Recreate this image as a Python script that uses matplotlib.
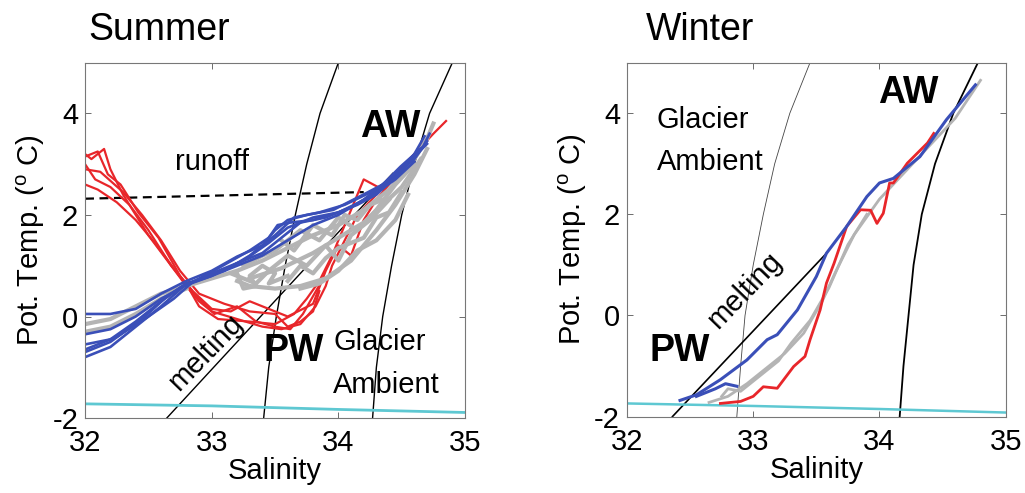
import numpy as np
import matplotlib.pyplot as plt

plt.rcParams['font.family'] = ['Liberation Sans', 'DejaVu Sans']
plt.rcParams['mathtext.fontset'] = 'custom'
plt.rcParams['mathtext.rm'] = 'Liberation Sans'
plt.rcParams['mathtext.it'] = 'Liberation Sans'
plt.rcParams['axes.unicode_minus'] = False

# ---------------- datos ----------------
# curvas de densidad (T, S)
iso_T = [-2, -1, 0, 1, 2, 3, 4, 5]
sum_isoA_S = [33.41, 33.45, 33.51, 33.58, 33.66, 33.75, 33.855, 34.0]
sum_isoB_S = [34.27, 34.30, 34.35, 34.42, 34.50, 34.60, 34.72, 34.9]
win_isoA_S = [32.87, 32.90, 32.935, 33.0, 33.08, 33.17, 33.29, 33.45]
win_isoB_S = [34.16, 34.19, 34.23, 34.27, 34.335, 34.44, 34.585, 34.78]

# linea de fusion (melting)
sum_melt_S = [32.645, 34.43]
sum_melt_T = [-2.0, 2.82]
win_melt_S = [32.36, 33.58]
win_melt_T = [-2.0, 1.23]

# runoff
runoff_S = [32.0, 34.2]
runoff_T = [2.32, 2.45]

# punto de congelamiento
frz_S = [32.0, 33.0, 34.0, 35.0]
sum_frz_T = [-1.72, -1.76, -1.83, -1.89]
win_frz_T = [-1.74, -1.79, -1.85, -1.92]

# perfiles verano: rojo
sum_red = [
    ([32.0, 32.05, 32.15, 32.2, 32.3, 32.4, 32.5, 32.65, 32.8, 32.9, 33.0, 33.2, 33.4, 33.55, 33.7, 33.82, 33.9, 33.95, 34.05, 34.15, 34.3, 34.45, 34.6, 34.75, 34.85],
     [3.2, 3.1, 3.3, 2.9, 2.4, 2.0, 1.6, 1.1, 0.6, 0.3, 0.1, -0.05, -0.2, -0.25, -0.15, 0.2, 0.6, 1.0, 1.5, 2.0, 2.4, 2.8, 3.2, 3.6, 3.85]),
    ([32.0, 32.1, 32.25, 32.4, 32.55, 32.7, 32.82, 32.9, 33.05, 33.3, 33.5, 33.65, 33.75, 33.85, 33.95, 34.05, 34.2, 34.35, 34.5, 34.7],
     [2.6, 2.5, 2.25, 1.9, 1.45, 0.95, 0.55, 0.2, -0.05, -0.1, -0.15, 0.05, 0.35, 0.7, 1.2, 1.8, 2.7, 2.5, 2.9, 3.5]),
    ([32.0, 32.08, 32.2, 32.35, 32.5, 32.68, 32.85, 33.0, 33.15, 33.3, 33.45, 33.6, 33.8, 33.9, 34.0, 34.1, 34.2, 34.3, 34.4],
     [3.0, 2.7, 2.55, 2.2, 1.7, 1.0, 0.5, 0.15, 0.1, 0.3, 0.15, 0.0, 0.25, 0.9, 1.4, 1.2, 1.9, 2.3, 2.6]),
    ([32.0, 32.12, 32.3, 32.45, 32.6, 32.75, 32.9, 33.1, 33.3, 33.5, 33.6, 33.7, 33.8, 33.85],
     [2.9, 2.85, 2.45, 2.0, 1.5, 0.9, 0.45, 0.25, 0.1, 0.05, -0.2, -0.1, 0.1, 0.5]),
    ([32.0, 32.1, 32.18, 32.28, 32.42, 32.58, 32.75, 32.88, 33.02, 33.2, 33.35, 33.5, 33.62, 33.72, 33.8, 33.88],
     [3.15, 3.25, 2.8, 2.6, 2.05, 1.55, 0.8, 0.4, 0.05, 0.2, -0.1, -0.2, -0.25, 0.05, 0.4, 0.75]),
]

# perfiles verano: gris
sum_grey = [
    ([32.0, 32.2, 32.4, 32.6, 32.8, 33.0, 33.2, 33.4, 33.6, 33.8, 34.0, 34.2, 34.4, 34.55, 34.7, 34.75],
     [-0.15, -0.05, 0.2, 0.45, 0.6, 0.75, 0.9, 1.1, 1.35, 1.6, 1.8, 2.1, 2.5, 2.9, 3.5, 3.8]),
    ([32.0, 32.2, 32.4, 32.6, 32.8],
     [-0.3, -0.2, 0.05, 0.35, 0.55]),
    ([33.2, 33.3, 33.5, 33.7, 33.9, 34.1, 34.3, 34.45, 34.6, 34.7],
     [0.7, 0.6, 0.55, 0.6, 0.75, 1.1, 1.7, 2.2, 2.8, 3.3]),
    ([33.15, 33.35, 33.45, 33.6, 33.75, 33.9, 34.0, 34.1, 34.25, 34.4],
     [0.85, 0.65, 0.9, 1.2, 1.0, 1.4, 1.1, 1.6, 1.9, 2.3]),
    ([33.25, 33.4, 33.5, 33.7, 33.85, 34.0, 34.15, 34.3, 34.45, 34.6],
     [1.0, 1.2, 1.3, 1.7, 1.5, 1.95, 1.7, 2.1, 2.6, 3.0]),
    ([33.3, 33.55, 33.8, 34.0, 34.2, 34.35, 34.5, 34.65],
     [0.75, 0.95, 1.25, 1.55, 1.85, 2.2, 2.55, 3.1]),
    ([33.6, 33.7, 33.8, 33.9, 34.0, 34.1, 34.2, 34.3, 34.4, 34.5],
     [0.7, 1.0, 0.85, 1.15, 1.35, 1.45, 1.55, 1.95, 2.05, 2.45]),
    ([33.55, 33.65, 33.8, 33.95, 34.05, 34.15, 34.25, 34.35],
     [1.5, 1.3, 1.8, 1.6, 2.0, 1.9, 2.2, 2.3]),
    ([33.7, 33.85, 34.0, 34.15, 34.3, 34.45, 34.55],
     [0.55, 0.65, 0.9, 1.3, 1.5, 1.9, 2.4]),
    ([33.2, 33.25, 33.35, 33.3, 33.4, 33.5, 33.45, 33.6],
     [0.85, 0.55, 0.6, 0.8, 1.0, 0.85, 0.65, 0.8]),
]

# perfiles verano: azul
sum_blue = [
    ([32.0, 32.2, 32.4, 32.6, 32.8, 33.0, 33.2, 33.4, 33.5, 33.6, 33.75, 33.96, 34.22, 34.35, 34.49, 34.67, 34.72],
     [0.05, 0.05, 0.15, 0.45, 0.7, 0.9, 1.18, 1.4, 1.7, 1.9, 2.0, 2.1, 2.43, 2.6, 2.95, 3.35, 3.6]),
    ([32.0, 32.2, 32.4, 32.6, 32.78, 33.0, 33.2, 33.4, 33.55, 33.7, 33.9, 34.1, 34.3, 34.5, 34.65],
     [-0.8, -0.6, -0.2, 0.2, 0.6, 0.8, 1.05, 1.25, 1.55, 1.85, 1.95, 2.15, 2.45, 2.85, 3.3]),
    ([32.0, 32.2, 32.4, 32.6, 32.78, 33.0, 33.2, 33.4, 33.6, 33.8, 34.0, 34.2, 34.4, 34.6, 34.7],
     [-0.55, -0.45, -0.1, 0.3, 0.62, 0.8, 1.0, 1.2, 1.5, 1.8, 2.0, 2.3, 2.7, 3.1, 3.45]),
    ([32.0, 32.2, 32.4, 32.6, 32.8, 33.0, 33.25, 33.45, 33.6, 33.8, 34.0, 34.25, 34.45, 34.6],
     [-0.35, -0.25, 0.0, 0.35, 0.62, 0.85, 1.1, 1.45, 1.75, 1.95, 2.05, 2.35, 2.7, 3.05]),
    ([32.0, 32.2, 32.45, 32.65, 32.8, 33.1, 33.3, 33.5, 33.65, 33.85, 34.05, 34.3, 34.5, 34.7],
     [-0.7, -0.5, -0.05, 0.4, 0.65, 0.9, 1.2, 1.6, 1.95, 2.05, 2.2, 2.5, 2.9, 3.4]),
    ([32.0, 32.25, 32.5, 32.7, 32.85, 33.05, 33.3, 33.45, 33.52, 33.62, 33.8, 34.0, 34.15, 34.3, 34.45, 34.6, 34.68],
     [-0.65, -0.4, 0.0, 0.35, 0.68, 0.95, 1.3, 1.55, 1.8, 1.85, 1.9, 2.05, 2.2, 2.4, 2.75, 3.2, 3.55]),
]

# perfiles invierno
win_blue = [
    ([32.42, 32.55, 32.74, 32.95, 33.11, 33.19, 33.35, 33.5, 33.58, 33.74, 33.9, 34.0, 34.11, 34.32, 34.53, 34.76],
     [-1.68, -1.57, -1.27, -0.88, -0.48, -0.38, 0.11, 0.77, 1.23, 1.76, 2.35, 2.62, 2.71, 3.14, 3.87, 4.56]),
    ([32.55, 32.7, 32.78, 32.87],
     [-1.6, -1.45, -1.35, -1.4]),
]
win_grey = [
    ([32.65, 32.8, 32.95, 33.1, 33.25, 33.4, 33.55, 33.65, 33.8, 34.0, 34.3, 34.6, 34.8],
     [-1.72, -1.6, -1.35, -1.05, -0.75, -0.35, 0.3, 0.85, 1.6, 2.3, 3.1, 3.9, 4.65]),
    ([32.75, 32.8, 32.9, 33.05, 33.2, 33.3, 33.45, 33.6, 33.75, 33.9],
     [-1.6, -1.45, -1.5, -1.2, -0.9, -0.55, -0.1, 0.55, 1.4, 2.0]),
]
win_red = [
    ([32.74, 32.9, 33.0, 33.08, 33.19, 33.32, 33.41, 33.45, 33.53, 33.58, 33.64, 33.74, 33.85, 33.93, 33.98, 34.03, 34.08, 34.11, 34.22, 34.38, 34.43],
     [-1.74, -1.7, -1.6, -1.41, -1.44, -1.01, -0.81, -0.48, 0.11, 0.64, 1.03, 1.76, 2.09, 2.08, 1.82, 2.02, 2.62, 2.62, 3.01, 3.41, 3.6]),
]

rojo = '#e8262a'
azul = '#3a4fb8'
gris = '#b4b4b4'
cian = '#5ec8d2'

fig = plt.figure(figsize=(10.25, 4.93), dpi=100)
ax1 = fig.add_axes([0.083, 0.152, 0.3707, 0.721])
ax2 = fig.add_axes([0.6117, 0.155, 0.3695, 0.718])

# ---------------- verano ----------------
ax1.plot(sum_isoA_S, iso_T, color='k', lw=1.0)
ax1.plot(sum_isoB_S, iso_T, color='k', lw=1.0)
ax1.plot(sum_melt_S, sum_melt_T, color='k', lw=1.0)
ax1.plot(runoff_S, runoff_T, color='k', lw=1.6, linestyle='--', dashes=(4, 2.5))
ax1.plot(frz_S, sum_frz_T, color=cian, lw=2.0)
for s, t in sum_red:
    ax1.plot(s, t, color=rojo, lw=1.6)
for s, t in sum_grey:
    ax1.plot(s, t, color=gris, lw=3.0)
for s, t in sum_blue:
    ax1.plot(s, t, color=azul, lw=1.9)

ax1.text(33.0, 3.05, 'runoff', fontsize=21, ha='center', va='center')
ax1.text(34.41, 3.74, 'AW', fontsize=27, fontweight='bold', ha='center', va='center')
ax1.text(33.65, -0.68, 'PW', fontsize=27, fontweight='bold', ha='center', va='center')
ax1.text(33.96, -0.5, 'Glacier', fontsize=21, ha='left', va='center')
ax1.text(33.96, -1.35, 'Ambient', fontsize=21, ha='left', va='center')
ax1.text(32.95, -0.7, 'melting', fontsize=21, ha='center', va='center', rotation=46)

# ---------------- invierno ----------------
ax2.plot(win_isoA_S, iso_T, color='#444444', lw=0.6)
ax2.plot(win_isoB_S, iso_T, color='k', lw=1.3)
ax2.plot(win_melt_S, win_melt_T, color='k', lw=1.2)
ax2.plot(frz_S, win_frz_T, color=cian, lw=1.8)
for s, t in win_grey:
    ax2.plot(s, t, color=gris, lw=2.0)
for s, t in win_red:
    ax2.plot(s, t, color=rojo, lw=2.0)
for s, t in win_blue:
    ax2.plot(s, t, color=azul, lw=2.2)

ax2.text(32.235, 3.87, 'Glacier', fontsize=21, ha='left', va='center')
ax2.text(32.235, 3.04, 'Ambient', fontsize=21, ha='left', va='center')
ax2.text(34.23, 4.4, 'AW', fontsize=27, fontweight='bold', ha='center', va='center')
ax2.text(32.42, -0.7, 'PW', fontsize=27, fontweight='bold', ha='center', va='center')
ax2.text(32.93, 0.5, 'melting', fontsize=21, ha='center', va='center', rotation=46)

# ejes
for ax in (ax1, ax2):
    ax.set_xlim(32, 35)
    ax.set_ylim(-2, 5)
    ax.set_xticks([32, 33, 34, 35])
    ax.set_yticks([-2, 0, 2, 4])
    ax.tick_params(direction='in', length=4, width=0.6, labelsize=21,
                   top=True, right=True, colors='#555555', labelcolor='k')
    ax.tick_params(axis='x', pad=8)
    ax.tick_params(axis='y', pad=5)
    for sp in ax.spines.values():
        sp.set_color('#777777')
        sp.set_linewidth(0.8)
    ax.set_xlabel('Salinity', fontsize=21, labelpad=0)
    ax.set_ylabel('Pot. Temp. ($^{o}$ C)', fontsize=21, labelpad=4)

fig.text(0.086, 0.94, 'Summer', fontsize=27, ha='left', va='center')
fig.text(0.630, 0.94, 'Winter', fontsize=27, ha='left', va='center')

plt.savefig('out.png', dpi=100)
